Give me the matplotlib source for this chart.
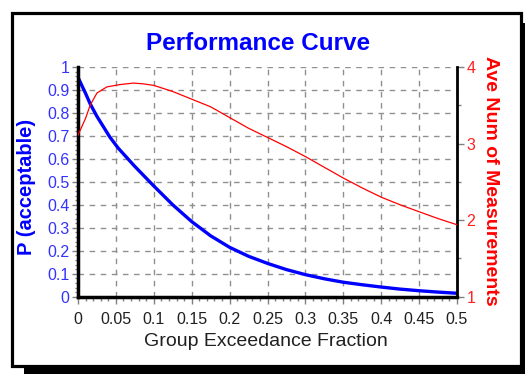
import matplotlib
matplotlib.use("Agg")
import matplotlib.pyplot as plt
from matplotlib.patches import Rectangle
from matplotlib.ticker import MultipleLocator

plt.rcParams['font.family'] = ['Liberation Sans', 'DejaVu Sans']

# Data
frac = [0, 0.01, 0.016, 0.025, 0.042, 0.053, 0.075, 0.1, 0.125, 0.15, 0.175, 0.2, 0.225, 0.25,
        0.275, 0.3, 0.325, 0.35, 0.375, 0.4, 0.425, 0.45, 0.475, 0.5]
p_accept = [0.955, 0.885, 0.84, 0.785, 0.695, 0.647, 0.567, 0.482, 0.40, 0.327, 0.265, 0.215,
            0.176, 0.145, 0.118, 0.096, 0.078, 0.063, 0.052, 0.042, 0.033, 0.026, 0.020, 0.015]
frac_n = [0, 0.005, 0.01, 0.016, 0.025, 0.038, 0.055, 0.073, 0.086, 0.1, 0.125, 0.15,
          0.175, 0.2, 0.225, 0.25, 0.275, 0.3, 0.325, 0.35, 0.375, 0.4, 0.425, 0.45,
          0.475, 0.5]
ave_num = [3.11, 3.22, 3.33, 3.50, 3.66, 3.74, 3.77, 3.79, 3.78, 3.76, 3.68, 3.58,
           3.48, 3.34, 3.20, 3.08, 2.96, 2.83, 2.69, 2.55, 2.42, 2.30, 2.20, 2.11,
           2.02, 1.94]
x_ticks = [0, 0.05, 0.1, 0.15, 0.2, 0.25, 0.3, 0.35, 0.4, 0.45, 0.5]
x_labels = ['0', '0.05', '0.1', '0.15', '0.2', '0.25', '0.3', '0.35', '0.4', '0.45', '0.5']
y_ticks = [0, 0.1, 0.2, 0.3, 0.4, 0.5, 0.6, 0.7, 0.8, 0.9, 1]
y_labels = ['0', '0.1', '0.2', '0.3', '0.4', '0.5', '0.6', '0.7', '0.8', '0.9', '1']
y2_ticks = [1, 2, 3, 4]
y2_labels = ['1', '2', '3', '4']

W, H = 525, 374
fig = plt.figure(figsize=(W / 100, H / 100), dpi=100)
fig.patch.set_facecolor('white')

# frame with shadow
fig.patches.append(Rectangle((24 / W, 0), 1, (H - 23) / H, transform=fig.transFigure,
                             facecolor='black', edgecolor='none', zorder=-10))
fig.patches.append(Rectangle((11.5 / W, (H - 365.5) / H), (521 - 11.5) / W, (365.5 - 12.5) / H,
                             transform=fig.transFigure, facecolor='white',
                             edgecolor='black', linewidth=2.3, zorder=-9))

x0, x1 = 78, 457
yt, yb = 67, 296.7
ax = fig.add_axes([x0 / W, (H - yb) / H, (x1 - x0) / W, (yb - yt) / H])
ax.set_facecolor('none')
ax.set_xlim(0, 0.5)
ax.set_ylim(0, 1)

ax.set_xticks(x_ticks)
ax.set_xticklabels(x_labels, fontsize=11.5, color='#202020')
ax.set_yticks(y_ticks)
ax.set_yticklabels(y_labels, fontsize=11.5, color='#3333ff')
ax.xaxis.set_minor_locator(MultipleLocator(0.01))
ax.yaxis.set_minor_locator(MultipleLocator(0.02))
ax.tick_params(axis='x', which='major', length=5, color='#808080', width=1, pad=6)
ax.tick_params(axis='x', which='minor', length=3, color='#808080', width=1)
ax.tick_params(axis='y', which='major', length=4, color='#808080', width=1, pad=2)
ax.tick_params(axis='y', which='minor', length=2, color='#808080', width=1)

ax.grid(True, which='major', color='#909090', linestyle=(0, (4, 4)), linewidth=1)
ax.set_axisbelow(True)
for s in ['top', 'right']:
    ax.spines[s].set_visible(False)
ax.spines['left'].set_linewidth(2.5)
ax.spines['bottom'].set_linewidth(2.5)
ax.spines['left'].set_zorder(5)
ax.spines['bottom'].set_zorder(5)

ax.plot(frac, p_accept, color='#0000ff', linewidth=2.4, zorder=4)

ax2 = ax.twinx()
ax2.set_ylim(1, 4)
ax2.set_yticks(y2_ticks)
ax2.set_yticklabels(y2_labels, fontsize=11.5, color='#ff2020')
ax2.yaxis.set_minor_locator(MultipleLocator(0.5))
ax2.tick_params(axis='y', which='major', length=5, color='#808080', width=1, pad=2)
ax2.tick_params(axis='y', which='minor', length=3, color='#808080', width=1)
for s in ['top', 'left', 'bottom']:
    ax2.spines[s].set_visible(False)
ax2.spines['right'].set_linewidth(2)
ax2.plot(frac_n, ave_num, color='#ff0000', linewidth=0.9, zorder=3)

fig.text(258 / W, 1 - 43 / H, 'Performance Curve', color='#0000ff', fontsize=17.5,
         fontweight='bold', ha='center', va='center')
fig.text(27 / W, 1 - 187 / H, 'P (acceptable)', color='#0000ff', fontsize=14.5,
         fontweight='bold', ha='center', va='center', rotation=90)
fig.text(491 / W, 1 - 181 / H, 'Ave Num of Measurements', color='#ff0000', fontsize=14,
         fontweight='bold', ha='center', va='center', rotation=270)
fig.text(266 / W, 1 - 341 / H, 'Group Exceedance Fraction', color='#202020', fontsize=14,
         ha='center', va='center')

fig.savefig('out.png', dpi=100)
